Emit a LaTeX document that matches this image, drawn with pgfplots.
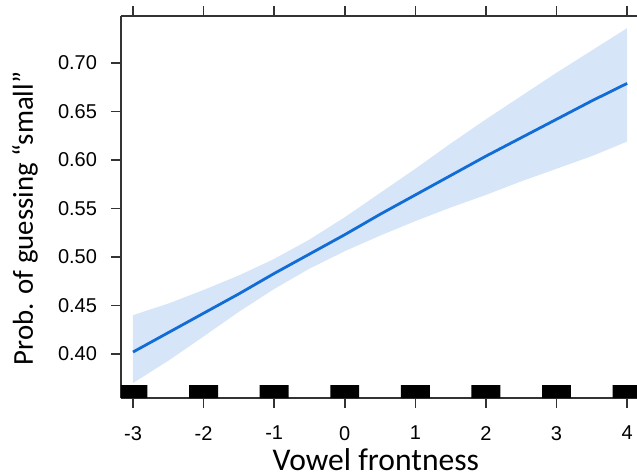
\documentclass[border=0pt]{standalone}
\usepackage{fontspec}
\setmainfont{Liberation Sans}
\newfontfamily\labelfont{Carlito}
\usepackage{pgfplots}
\pgfplotsset{compat=1.18}
\definecolor{bandblue}{RGB}{214,230,248}
\definecolor{lineblue}{RGB}{18,108,214}

\begin{document}
\begin{tikzpicture}
\begin{axis}[
    scale only axis,
    width=258pt, height=191pt,
    xmin=-3.17, xmax=4.14,
    ymin=0.3546, ymax=0.7485,
    axis x line*=box, axis y line*=left,
    axis line style={line width=0.9pt, black!80},
    tick align=outside,
    major tick length=5pt,
    every tick/.style={line width=0.8pt, black!80},
    xtick={-3,-2,-1,0,1,2,3,4},
    ytick={0.40,0.45,0.50,0.55,0.60,0.65,0.70},
    yticklabel style={/pgf/number format/fixed, /pgf/number format/fixed zerofill, /pgf/number format/precision=2, xshift=-3.5pt},
    xticklabel style={yshift=-5.5pt},
    /pgf/number format/assume math mode=true,
    tick label style={font=\fontsize{10}{12}\selectfont},
    xlabel={Vowel frontness},
    ylabel={Prob. of guessing “small”},
    xlabel style={at={([yshift=-31pt]axis description cs:0.494,0)}, anchor=center, font=\labelfont\fontsize{15.8}{18}\selectfont},
    ylabel style={at={([xshift=-48pt]axis description cs:0,0.470)}, anchor=center, font=\labelfont\fontsize{14.4}{17}\selectfont},
]
% confidence band
\addplot[fill=bandblue, draw=none] coordinates {
    (-3,0.440) (-2.5,0.452) (-2,0.466) (-1.5,0.481) (-1,0.498) (-0.5,0.518)
    (0,0.541) (0.5,0.566) (1,0.591) (1.5,0.617) (2,0.642) (2.5,0.666)
    (3,0.690) (3.5,0.713) (4,0.736)
    (4,0.619) (3.5,0.604) (3,0.591) (2.5,0.578) (2,0.564) (1.5,0.551)
    (1,0.537) (0.5,0.522) (0,0.506) (-0.5,0.488) (-1,0.467) (-1.5,0.4435)
    (-2,0.418) (-2.5,0.393) (-3,0.370)
} -- cycle;
% fitted line
\addplot[lineblue, line width=1.4pt] coordinates {
    (-3,0.402) (-2.5,0.422) (-2,0.442) (-1.5,0.462) (-1,0.483) (-0.5,0.503)
    (0,0.523) (0.5,0.544) (1,0.564) (1.5,0.584) (2,0.604) (2.5,0.623)
    (3,0.642) (3.5,0.661) (4,0.679)
};
% rug
\addplot[ybar, bar width=0.41, fill=black, draw=none] coordinates {
    (-3,0.368) (-2,0.368) (-1,0.368) (0,0.368) (1,0.368) (2,0.368) (3,0.368) (4,0.368)
};
\coordinate (sw) at (rel axis cs:0,0);
\coordinate (ne) at (rel axis cs:1,1);
\end{axis}
\pgfresetboundingbox
\path[use as bounding box] ([xshift=-60.5pt,yshift=-39pt]sw) rectangle ([yshift=8pt]ne);
\end{tikzpicture}
\end{document}
